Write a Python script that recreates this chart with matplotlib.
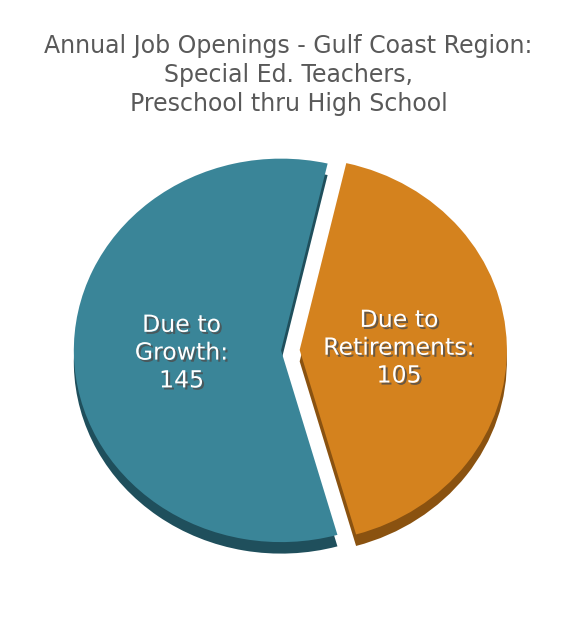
import matplotlib.pyplot as plt
import matplotlib.patheffects as pe

# data
labels = ["Due to\nRetirements:\n105", "Due to\nGrowth:\n145"]
values = [105, 145]
colors = ["#D4821E", "#3A8598"]
dark_colors = ["#8A5210", "#1F4F5C"]
explode = [0.09, 0.0]

fig = plt.figure(figsize=(5.77, 6.21), dpi=100)
fig.text(0.5, 0.945, "Annual Job Openings - Gulf Coast Region:\nSpecial Ed. Teachers,\nPreschool thru High School",
         ha="center", va="top", fontsize=17, color="#595959", linespacing=1.25)

ax = fig.add_axes([0.11, 0.09, 0.79, 0.67])

# depth layer for a simple 3D look
ax.pie(values, colors=dark_colors, startangle=77, counterclock=False,
       explode=explode, center=(0, -0.06), radius=1.0,
       wedgeprops=dict(linewidth=0))
wedges, texts = ax.pie(values, colors=colors, startangle=77, counterclock=False,
                       explode=explode, radius=1.0,
                       labels=labels, labeldistance=0.48,
                       wedgeprops=dict(linewidth=0),
                       textprops=dict(color="white", fontsize=17, ha="center",
                                      va="center", linespacing=1.2))
for t in texts:
    t.set_path_effects([pe.withSimplePatchShadow(offset=(1.5, -1.5), alpha=0.8)])

ax.set_aspect("auto")
ax.set_xlim(-1.05, 1.15)
ax.set_ylim(-1.12, 1.05)
ax.axis("off")

fig.savefig("out.png", dpi=100)
